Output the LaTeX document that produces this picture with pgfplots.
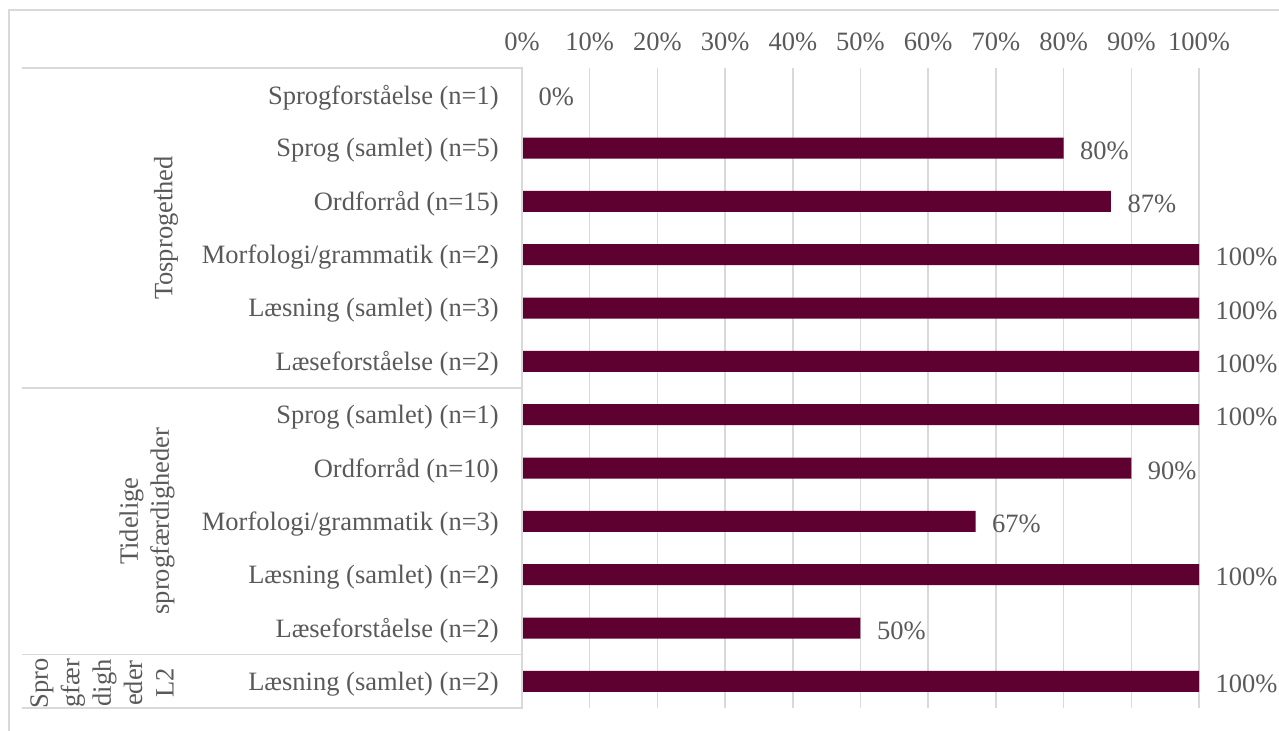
\documentclass[border=0pt]{standalone}
\usepackage{fontspec}
\setmainfont{Liberation Serif}
\usepackage{pgfplots}
\pgfplotsset{compat=1.18}
\definecolor{barc}{HTML}{5E0030}
\definecolor{txt}{HTML}{595959}
\definecolor{gridc}{HTML}{D9D9D9}
\begin{document}
\fontsize{13.3}{15.5}\selectfont
\begin{tikzpicture}
\path[use as bounding box] (-261bp,-11.5bp) rectangle (378.5bp,354bp);
\draw[gridc, line width=0.75bp] (-256.5bp,-20bp) -- (-256.5bp,349bp) -- (400bp,349bp);
\begin{axis}[at={(0,0)}, anchor=south west, scale only axis,
  width=338.5bp, height=320bp,
  xbar, bar width=10.5bp,
  xmin=0, xmax=100, ymin=-0.5, ymax=11.5, y dir=reverse,
  xtick={0,10,...,100}, xticklabel pos=upper,
  xticklabel={\pgfmathprintnumber{\tick}\%},
  ytick={0,...,11},
  yticklabels={Sprogforståelse (n=1), Sprog (samlet) (n=5), Ordforråd (n=15), Morfologi/grammatik (n=2), Læsning (samlet) (n=3), Læseforståelse (n=2), Sprog (samlet) (n=1), Ordforråd (n=10), Morfologi/grammatik (n=3), Læsning (samlet) (n=2), Læseforståelse (n=2), Læsning (samlet) (n=2)},
  axis line style={draw=none}, major tick length=0pt,
  xmajorgrids, grid style={gridc, line width=0.75bp},
  tick label style={txt, font=\fontsize{13.3}{15.5}\selectfont},
  yticklabel style={xshift=-7bp, yshift=-1.3bp},
  xticklabel style={yshift=4bp},
  /pgf/number format/assume math mode=true,
  point meta=x,
  nodes near coords={\pgfmathprintnumber{\pgfplotspointmeta}\%},
  nodes near coords style={txt, font=\fontsize{13.3}{15.5}\selectfont, anchor=west, xshift=3.7bp, yshift=-1.3bp},
]
\addplot[fill=barc, draw=none] coordinates {(0,0) (80,1) (87,2) (100,3) (100,4) (100,5) (100,6) (90,7) (67,8) (100,9) (50,10) (100,11)};
\end{axis}
\draw[gridc, line width=0.75bp] (-250bp,320bp) -- (0bp,320bp) -- (0bp,0bp) -- (-250bp,0bp);
\draw[gridc, line width=0.75bp] (-250bp,160bp) -- (0bp,160bp);
\draw[gridc, line width=0.75bp] (-250bp,26.67bp) -- (0bp,26.67bp);
\node[txt, rotate=90, align=center, font=\fontsize{13.3}{15.5}\selectfont] at (-178bp,240bp) {Tosprogethed};
\node[txt, rotate=90, align=center, font=\fontsize{13.3}{15.5}\selectfont] at (-187.5bp,93.5bp) {Tidelige\\sprogfærdigheder};
\node[txt, rotate=90, align=center, font=\fontsize{13.3}{15.8}\selectfont] at (-210bp,12.5bp) {Spro\\gfær\\digh\\eder\\L2};
\end{tikzpicture}
\end{document}
